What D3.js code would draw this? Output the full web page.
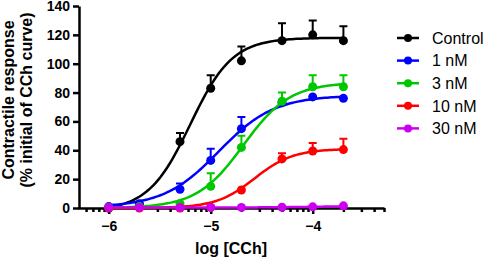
<!DOCTYPE html>
<html>
<head>
<meta charset="utf-8">
<script src="https://cdn.jsdelivr.net/npm/d3@7"></script>
<style>
body { margin: 0; background: #fff; }
svg { font-family: Arial, "Liberation Sans", sans-serif; }
.axis path, .axis line { stroke: #000; stroke-width: 2.5; }
.axis text { font-size: 14px; font-weight: bold; fill: #000; }
</style>
</head>
<body>
<div id="chart"></div>
<script>

// CCh concentrations (M)
var doses = [1e-6, 2e-6, 5e-6, 1e-5, 2e-5, 5e-5, 1e-4, 2e-4];

var series_names = ["Control", "1 nM", "3 nM", "10 nM", "30 nM"];
var series_colors = ["#000000", "#0000ff", "#00c800", "#ff0000", "#cc00ee"];

// mean response per dose
var control_mean = [0, 2, 46, 83, 102, 116, 120, 116];
var nm1_mean = [1, 3, 13, 33, 55, 73, 77, 76];
var nm3_mean = [0.5, 1, 3, 15, 42, 74, 84, 84];
var nm10_mean = [0, 0, 0, 0.5, 12.5, 34, 39.5, 40.5];
var nm30_mean = [0.3, 0.3, 0.3, 0.4, 0.4, 0.5, 0.8, 1.5];

// SEM per dose
var control_sem = [0, 0, 6, 9, 10, 12, 10, 10];
var nm1_sem = [0, 0, 4, 8, 8, 0, 0, 0];
var nm3_sem = [0, 0, 0, 9, 8, 6, 8, 8];
var nm10_sem = [0, 0, 0, 0, 0, 4, 5.5, 7.5];
var nm30_sem = [0, 0, 0, 0, 0, 0, 0, 0];

// fitted curve: bottom, top, logEC50, hill slope
var fit_bottom = [-2, 0.5, 0, 0, 0.3];
var fit_top = [118, 78, 87, 41, 1.6];
var fit_logec50 = [-5.2, -4.92, -4.68, -4.57, -3.9];
var fit_hill = [2.1, 1.6, 1.9, 2.3, 1.5];

var y_ticks = [0, 20, 40, 60, 80, 100, 120, 140];
var x_major = [1e-6, 1e-5, 1e-4];

var means = [control_mean, nm1_mean, nm3_mean, nm10_mean, nm30_mean];
var sems = [control_sem, nm1_sem, nm3_sem, nm10_sem, nm30_sem];

var svg = d3.select("#chart")
    .append("svg")
    .attr("width", 484)
    .attr("height", 261);

var xScale = d3.scaleLog()
    .domain([5e-7, 5e-4])
    .range([78, 384]);

var yScale = d3.scaleLinear()
    .domain([0, 140])
    .range([208, 6]);

// minor + major ticks at k * 10^n
var x_ticks = [];
[1e-7, 1e-6, 1e-5, 1e-4].forEach(function(p) {
    for (var k = 1; k <= 9; k++) {
        var v = k * p;
        if (v > 5.01e-7 && v < 5.01e-4) x_ticks.push(v);
    }
});

var xAxis = d3.axisBottom(xScale)
    .tickValues(x_ticks)
    .tickSizeOuter(0)
    .tickFormat(function(d) {
        return x_major.indexOf(d) >= 0 ? d3.format("d")(Math.round(Math.log10(d))).replace("-", "-") : "";
    });

var gx = svg.append("g")
    .attr("class", "axis")
    .attr("transform", "translate(0,208)")
    .call(xAxis);

gx.selectAll(".tick line")
    .attr("y2", function(d) { return x_major.indexOf(d) >= 0 ? 6 : 4; });
gx.selectAll(".tick text")
    .attr("y", 13);

var yAxis = d3.axisLeft(yScale)
    .tickValues(y_ticks)
    .tickSize(6)
    .tickPadding(3)
    .tickSizeOuter(0);

svg.append("g")
    .attr("class", "axis")
    .attr("transform", "translate(79,0)")
    .call(yAxis);

// axis titles
svg.append("text")
    .attr("transform", "translate(14,100) rotate(-90)")
    .attr("text-anchor", "middle")
    .style("font-size", "16px")
    .style("font-weight", "bold")
    .text("Contractile response");

svg.append("text")
    .attr("transform", "translate(32,100) rotate(-90)")
    .attr("text-anchor", "middle")
    .style("font-size", "16px")
    .style("font-weight", "bold")
    .text("(% initial of CCh curve)");

svg.append("text")
    .attr("x", 231)
    .attr("y", 254)
    .attr("text-anchor", "middle")
    .style("font-size", "16px")
    .style("font-weight", "bold")
    .text("log [CCh]");

function hill(i, logx) {
    return fit_bottom[i] + (fit_top[i] - fit_bottom[i]) /
        (1 + Math.pow(10, (fit_logec50[i] - logx) * fit_hill[i]));
}

var line = d3.line()
    .x(function(d) { return xScale(d[0]); })
    .y(function(d) { return yScale(d[1]); })
    .curve(d3.curveLinear);

for (var i = 0; i < series_names.length; i++) {
    var g = svg.append("g");
    var lo = Math.log10(doses[0]), hi = Math.log10(doses[doses.length - 1]);
    var curve_pts = d3.range(0, 101).map(function(k) {
        var lx = lo + (hi - lo) * k / 100;
        return [Math.pow(10, lx), hill(i, lx)];
    });

    g.append("path")
        .datum(curve_pts)
        .attr("d", line)
        .attr("fill", "none")
        .attr("stroke", series_colors[i])
        .attr("stroke-width", 2.5);

    var pts = doses.map(function(d, j) {
        return { dose: d, mean: means[i][j], sem: sems[i][j] };
    });

    var bars = pts.filter(function(d) { return d.sem > 0; });

    g.selectAll(".err")
        .data(bars)
        .enter()
        .append("path")
        .attr("d", function(d) {
            var x = xScale(d.dose), y0 = yScale(d.mean), y1 = yScale(d.mean + d.sem);
            return "M" + x + "," + y0 + "V" + y1 + "M" + (x - 4) + "," + y1 + "H" + (x + 4);
        })
        .attr("fill", "none")
        .attr("stroke", series_colors[i])
        .attr("stroke-width", 2);

    g.selectAll("circle")
        .data(pts)
        .enter()
        .append("circle")
        .attr("cx", function(d) { return xScale(d.dose); })
        .attr("cy", function(d) { return yScale(d.mean); })
        .attr("r", 4.5)
        .style("fill", series_colors[i]);
}

// legend
var legend = svg.append("g");
series_names.forEach(function(name, i) {
    var y = 38 + i * 22.6;
    legend.append("line")
        .attr("x1", 397).attr("x2", 419)
        .attr("y1", y).attr("y2", y)
        .attr("stroke", series_colors[i])
        .attr("stroke-width", 2.5);
    legend.append("circle")
        .attr("cx", 408).attr("cy", y)
        .attr("r", 4)
        .style("fill", series_colors[i]);
    legend.append("text")
        .attr("x", 432).attr("y", y)
        .attr("dy", "0.36em")
        .style("font-size", "16px")
        .text(name);
});

</script>
</body>
</html>
